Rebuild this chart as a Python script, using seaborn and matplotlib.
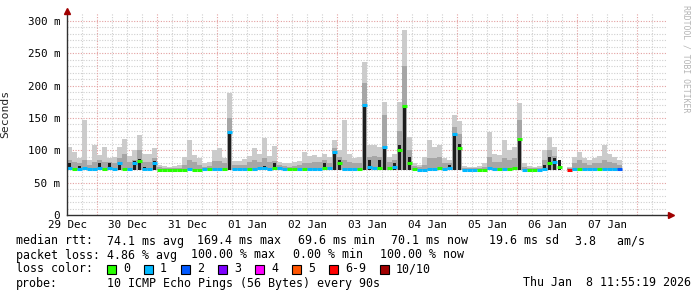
import numpy as np
import pandas as pd
import matplotlib
matplotlib.use("Agg")
import matplotlib.pyplot as plt
import matplotlib.dates as mdates
import matplotlib.transforms as mtransforms
from matplotlib.patches import Rectangle
import seaborn as sns

# ---------------- data ----------------
t_start = "2025-12-29 11:55:19"
t_end = "2026-01-08 11:55:19"
sample_step = "2h"
rtt_floor = 69.0  # bottom of the smoke (fastest ping), ms

nan = np.nan
smoke_max = [105, 97, 88, 147, 85, 108, 93, 105, 88, 90, 105, 118, 92, 100, 124, 95, 95, 104, 78, 76,
             75, 76, 78, 90, 116, 93, 88, 80, 82, 100, 104, 88, 188, 84, 84, 86, 92, 104, 95, 119,
             92, 107, 82, 80, 80, 82, 84, 97, 92, 93, 90, 95, 90, 116, 100, 147, 95, 88, 90, 237,
             108, 108, 105, 175, 90, 95, 175, 286, 120, 80, 77, 90, 116, 105, 108, 88, 85, 155, 145, 76,
             75, 75, 76, 80, 128, 95, 93, 116, 100, 105, 173, 80, 76, 75, 76, 100, 121, 105, 124, nan,
             75, 90, 97, 88, 85, 88, 92, 108, 95, 90, 85]
smoke_mid = [85, 82, 80, 85, 78, 82, 85, 82, 82, 80, 88, 95, 82, 85, 100, 82, 82, 88, 74, 73,
             72, 73, 73, 77, 85, 82, 78, 75, 76, 84, 84, 80, 150, 78, 77, 78, 82, 85, 82, 88,
             82, 84, 77, 76, 75, 76, 77, 80, 80, 82, 82, 85, 80, 104, 90, 85, 82, 80, 80, 204,
             90, 92, 90, 155, 82, 85, 130, 230, 100, 76, 74, 78, 88, 88, 90, 80, 80, 136, 125, 73,
             72, 72, 72, 74, 90, 82, 82, 88, 85, 88, 147, 75, 73, 72, 73, 85, 100, 92, 95, nan,
             72, 80, 85, 80, 78, 80, 80, 85, 82, 80, 78]
smoke_core = [80, 69, 76, 75, 69, 69, 80, 69, 80, 69, 82, 69, 69, 84, 86, 74, 69, 84, 69, 69,
              69, 69, 69, 69, 69, 69, 69, 69, 69, 69, 69, 69, 128, 69, 69, 69, 69, 69, 69, 76,
              69, 80, 75, 69, 69, 69, 69, 69, 69, 69, 69, 80, 69, 97, 85, 69, 69, 69, 69, 170,
              85, 69, 85, 105, 69, 80, 108, 168, 90, 69, 69, 69, 69, 69, 69, 69, 78, 127, 110, 69,
              69, 69, 69, 69, 69, 69, 69, 69, 69, 69, 119, 69, 69, 69, 69, 78, 90, 88, 85, nan,
              69, 69, 69, 69, 69, 69, 69, 69, 69, 69, 69]
median_rtt = [72, 71, 71, 72, 71, 71, 73, 71, 72, 71, 81, 71, 71, 80, 84, 71, 71, 80, 70, 70,
              70, 70, 70, 70, 71, 70, 70, 71, 71, 71, 71, 71, 128, 71, 71, 71, 71, 71, 72, 72,
              71, 72, 72, 71, 71, 71, 71, 71, 71, 71, 71, 72, 72, 97, 80, 71, 71, 71, 71, 169.4,
              75, 72, 72, 105, 72, 75, 100, 168, 80, 71, 70, 70, 71, 71, 72, 71, 72, 125, 104, 70,
              70, 70, 70, 70, 72, 71, 71, 71, 71, 72, 117, 70, 70, 70, 70, 71, 80, 82, 75, nan,
              70, 71, 71, 71, 71, 71, 71, 71, 71, 71, 71]
loss_class = [1, 0, 1, 1, 1, 1, 1, 0, 1, 1, 1, 0, 1, 1, 0, 1, 1, 1, 0, 0,
              0, 0, 0, 0, 1, 0, 0, 1, 0, 1, 1, 0, 1, 1, 1, 1, 0, 1, 1, 1,
              1, 0, 1, 1, 0, 0, 1, 0, 1, 1, 1, 0, 1, 1, 0, 1, 1, 1, 0, 1,
              1, 1, 0, 1, 0, 1, 0, 0, 0, 0, 1, 1, 1, 1, 0, 1, 1, 1, 0, 1,
              1, 1, 0, 0, 1, 1, 0, 1, 0, 0, 0, 1, 0, 0, 1, 1, 0, 1, 0, -1,
              6, 1, 0, 1, 1, 1, 0, 1, 1, 1, 2]

loss_labels = ["0", "1", "2", "3", "4", "5", "6-9", "10/10"]
loss_colors = ["#26ff00", "#00b8ff", "#0059ff", "#7e00ff", "#ff00ff", "#ff5500", "#ff0000", "#a10000"]

y_ticks = [0, 50, 100, 150, 200, 250, 300]
y_tick_labels = ["0", "50 m", "100 m", "150 m", "200 m", "250 m", "300 m"]
day_labels = ["29 Dec", "30 Dec", "31 Dec", "01 Jan", "02 Jan", "03 Jan", "04 Jan", "05 Jan", "06 Jan", "07 Jan"]
label_days = pd.date_range("2025-12-29 12:00", periods=10, freq="1D")

legend_rtt = [("median rtt:", 16), ("74.1 ms avg", 107), ("169.4 ms max", 197), ("69.6 ms min", 298),
              ("70.1 ms now", 391), ("19.6 ms sd", 489), ("3.8   am/s", 575)]
legend_loss = [("packet loss:", 16), ("4.86 % avg", 107), ("100.00 % max", 191), ("0.00 % min", 293),
               ("100.00 % now", 380)]
probe_text = "10 ICMP Echo Pings (56 Bytes) every 90s"
stamp_text = "Thu Jan  8 11:55:19 2026"

# ---------------- figure ----------------
sns.set_style("white")
plt.rcParams["font.family"] = ["DejaVu Sans Mono", "DejaVu Sans"]

W, H = 697, 297
fig = plt.figure(figsize=(W / 100, H / 100), dpi=100, facecolor="white")
ax = fig.add_axes([67 / W, (H - 215) / H, 600 / W, (215 - 13) / H])
ax.set_facecolor("white")

x0 = mdates.date2num(pd.Timestamp(t_start).to_pydatetime())
x1 = mdates.date2num(pd.Timestamp(t_end).to_pydatetime())
n = len(median_rtt)
edges = mdates.date2num(pd.date_range(t_start, periods=n + 1, freq=sample_step).to_pydatetime())
step_w = edges[1] - edges[0]

ymax = 312.4
ax.set_xlim(x0, x1)
ax.set_ylim(0, ymax)

# grid
grid_gray = "#cfcfcf"
grid_red = "#e3a0a0"
dots = (0, (1, 1.4))
for v in range(10, 301, 10):
    col = grid_red if v % 50 == 0 else grid_gray
    ax.axhline(v, color=col, lw=0.8, ls=dots, zorder=0)
six_h = pd.date_range("2025-12-29 18:00", "2026-01-08 06:00", freq="6h")
for ts in six_h:
    xv = mdates.date2num(ts.to_pydatetime())
    col = grid_red if ts.hour == 0 else grid_gray
    ax.plot([xv, xv], [0, ymax], color=col, lw=0.8, ls=dots, zorder=0)

# smoke
def ext(a):
    a = np.asarray(a, dtype=float)
    return np.append(a, a[-1])

floor = np.full(n + 1, rtt_floor)
ax.fill_between(edges, floor, ext(smoke_max), step="post", color="#cbcbcb", lw=0, zorder=1)
ax.fill_between(edges, floor, ext(smoke_mid), step="post", color="#a6a6a6", lw=0, zorder=2)
core = np.asarray(smoke_core, dtype=float)
ax.bar(edges[:-1] + step_w * 0.5, core - rtt_floor, bottom=rtt_floor, width=step_w * 0.55,
       color="#1e1e1e", lw=0, zorder=3)

# median coloured by loss
df = pd.DataFrame({"x0": edges[:-1], "x1": edges[1:], "med": median_rtt, "loss": loss_class})
df = df[df["loss"] >= 0]
ax.hlines(df["med"], df["x0"], df["x1"], colors=[loss_colors[k] for k in df["loss"]],
          lw=2.2, zorder=4, capstyle="butt")

# axes / ticks
for s in ["top", "right"]:
    ax.spines[s].set_visible(False)
for s in ["left", "bottom"]:
    ax.spines[s].set_color("#303030")
    ax.spines[s].set_linewidth(1.0)
    ax.spines[s].set_zorder(5)

ax.set_yticks(y_ticks)
ax.set_yticklabels(y_tick_labels)
ax.set_xticks(mdates.date2num(label_days.to_pydatetime()))
ax.set_xticklabels(day_labels)
ax.tick_params(axis="both", length=0, labelsize=7.8, colors="#000000")
ax.tick_params(axis="y", pad=5)
ax.tick_params(axis="x", pad=3.5)

ax.set_ylabel("Seconds", fontsize=8.2, labelpad=8)
ax.yaxis.set_label_coords(-57 / 600, 0.5)

# arrows
up = mtransforms.offset_copy(ax.transAxes, fig=fig, x=0, y=2.5, units="dots")
ax.plot([0], [1], marker="^", ms=4.5, color="#a00000", mec="#a00000", transform=up, clip_on=False, zorder=6)
rt = mtransforms.offset_copy(ax.transAxes, fig=fig, x=4, y=0, units="dots")
ax.plot([1, 1.006], [0, 0], color="#303030", lw=1.0, transform=ax.transAxes, clip_on=False, zorder=5)
ax.plot([1], [0], marker=">", ms=4.5, color="#a00000", mec="#a00000", transform=rt, clip_on=False, zorder=6)

# watermark
fig.text(686 / W, 1 - 59 / H, "RRDTOOL / TOBI OETIKER", rotation=270, ha="center", va="center",
         fontsize=5.9, color="#b4b4b4")

# legend
fs = 8.4
def put(s, x, y, ha="left"):
    fig.text(x / W, 1 - y / H, s, ha=ha, va="center", fontsize=fs, color="black")

for s, x in legend_rtt:
    put(s, x, 241)
for s, x in legend_loss:
    put(s, x, 255)
put("loss color:", 16, 269)
bx = 107
for lab, col in zip(loss_labels, loss_colors):
    fig.patches.append(Rectangle((bx / W, 1 - 274 / H), 9 / W, 9 / H, transform=fig.transFigure,
                                 facecolor=col, edgecolor="black", lw=0.8))
    put(lab, bx + 16, 269)
    bx += 16 + 7 * len(lab) + 14
put("probe:", 16, 283)
put(probe_text, 107, 283)
put(stamp_text, 691, 283, ha="right")

fig.savefig("out.png", dpi=100, facecolor="white")
